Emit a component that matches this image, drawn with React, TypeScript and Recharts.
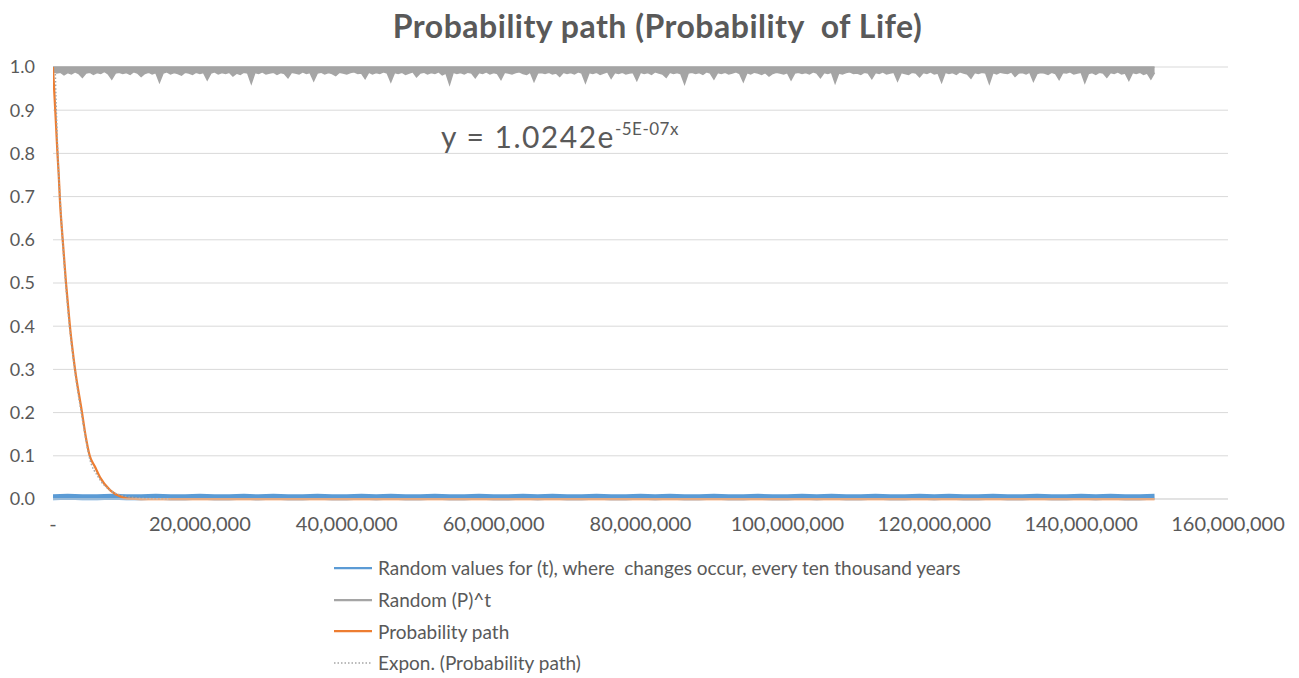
import React from "react";
import {
  ComposedChart,
  Area,
  Line,
  XAxis,
  YAxis,
  CartesianGrid,
} from "recharts";

// step of the random series (years)
const STEP_GRAY = 500000;
const STEP_BLUE = 2000000;

// lower edge of the noisy "Random (P)^t" band, one value per 0.5M years, 0 .. 150M
const randomPLow = [
  0.990, 0.986, 0.988, 0.982, 0.987, 0.984, 0.989, 0.985, 0.976, 0.986, 0.988, 0.983, 0.987, 0.985, 0.990, 0.984, 0.972, 0.986, 0.988, 0.985,
  0.987, 0.983, 0.989, 0.986, 0.978, 0.985, 0.988, 0.984, 0.987, 0.965, 0.986, 0.989, 0.984, 0.987, 0.985, 0.981, 0.988, 0.986, 0.983, 0.988,
  0.985, 0.987, 0.970, 0.986, 0.989, 0.984, 0.987, 0.985, 0.988, 0.979, 0.986, 0.983, 0.988, 0.986, 0.962, 0.987, 0.985, 0.989, 0.984, 0.986,
  0.988, 0.983, 0.987, 0.985, 0.975, 0.988, 0.986, 0.984, 0.989, 0.985, 0.987, 0.968, 0.986, 0.988, 0.984, 0.987, 0.985, 0.980, 0.988, 0.986,
  0.984, 0.987, 0.989, 0.985, 0.986, 0.973, 0.988, 0.984, 0.987, 0.985, 0.989, 0.986, 0.966, 0.987, 0.985, 0.988, 0.983, 0.986, 0.989, 0.977,
  0.986, 0.988, 0.984, 0.987, 0.985, 0.989, 0.982, 0.986, 0.960, 0.988, 0.985, 0.987, 0.984, 0.988, 0.986, 0.975, 0.987, 0.985, 0.989, 0.984,
  0.987, 0.985, 0.971, 0.988, 0.986, 0.984, 0.987, 0.989, 0.985, 0.983, 0.988, 0.967, 0.986, 0.987, 0.985, 0.988, 0.984, 0.986, 0.978, 0.988,
  0.985, 0.987, 0.984, 0.989, 0.986, 0.964, 0.987, 0.985, 0.988, 0.983, 0.986, 0.989, 0.974, 0.987, 0.985, 0.988, 0.984, 0.986, 0.987, 0.969,
  0.988, 0.985, 0.987, 0.983, 0.989, 0.986, 0.984, 0.976, 0.988, 0.985, 0.987, 0.984, 0.961, 0.986, 0.988, 0.985, 0.987, 0.983, 0.989, 0.986,
  0.972, 0.987, 0.985, 0.988, 0.984, 0.986, 0.989, 0.985, 0.966, 0.987, 0.984, 0.988, 0.986, 0.983, 0.987, 0.979, 0.985, 0.988, 0.986, 0.984,
  0.987, 0.970, 0.986, 0.988, 0.985, 0.987, 0.984, 0.989, 0.986, 0.975, 0.987, 0.985, 0.988, 0.963, 0.986, 0.984, 0.987, 0.989, 0.985, 0.986,
  0.983, 0.988, 0.986, 0.973, 0.987, 0.985, 0.989, 0.984, 0.986, 0.988, 0.968, 0.987, 0.985, 0.983, 0.988, 0.986, 0.977, 0.987, 0.985, 0.989,
  0.984, 0.986, 0.965, 0.988, 0.985, 0.987, 0.983, 0.989, 0.986, 0.984, 0.974, 0.987, 0.985, 0.988, 0.986, 0.962, 0.987, 0.984, 0.988, 0.986,
  0.985, 0.989, 0.978, 0.986, 0.987, 0.984, 0.988, 0.967, 0.985, 0.987, 0.986, 0.983, 0.988, 0.985, 0.971, 0.987, 0.986, 0.989, 0.984, 0.986,
  0.988, 0.964, 0.985, 0.987, 0.983, 0.988, 0.986, 0.976, 0.987, 0.985, 0.989, 0.984, 0.986, 0.969, 0.987, 0.985, 0.988, 0.983, 0.986, 0.972,
  0.987,
];

// random values for t, one per 2M years
const randomT = [
  0.004, 0.005, 0.004, 0.004, 0.005, 0.004, 0.004, 0.005, 0.004, 0.004, 0.005, 0.004, 0.004, 0.005, 0.004, 0.005, 0.004, 0.004, 0.005, 0.004,
  0.004, 0.005, 0.004, 0.005, 0.004, 0.004, 0.005, 0.004, 0.004, 0.005, 0.004, 0.004, 0.005, 0.004, 0.005, 0.004, 0.004, 0.005, 0.004, 0.004,
  0.005, 0.004, 0.005, 0.004, 0.004, 0.005, 0.004, 0.004, 0.005, 0.004, 0.004, 0.005, 0.004, 0.005, 0.004, 0.004, 0.005, 0.004, 0.004, 0.005,
  0.004, 0.005, 0.004, 0.004, 0.005, 0.004, 0.004, 0.005, 0.004, 0.004, 0.005, 0.004, 0.005, 0.004, 0.004, 0.005,
];

// probability path (x in millions of years)
const pathX = [0, 0.15, 0.31, 0.46, 0.61, 0.78, 0.95, 1.32, 1.77, 2.3, 3.0, 3.95, 4.4, 5.0, 5.7, 6.4, 7.8, 9.3, 10.2, 12, 150];
const pathY = [1.0, 0.95, 0.9, 0.85, 0.8, 0.75, 0.69, 0.6, 0.5, 0.4, 0.3, 0.2, 0.15, 0.1, 0.075, 0.05, 0.02, 0.005, 0.001, 0.0, 0.0];

// exponential trendline (x in millions of years)
const trendX = [0.3, 0.4, 0.55, 0.7, 0.95, 1.3, 1.72, 2.25, 2.95, 3.85, 4.35, 4.9, 6.2, 7.8, 9.5, 12, 16];
const trendY = [1.0, 0.93, 0.85, 0.78, 0.7, 0.6, 0.5, 0.4, 0.3, 0.2, 0.15, 0.1, 0.05, 0.02, 0.008, 0.002, 0.0];

const xTicks = [0, 20000000, 40000000, 60000000, 80000000, 100000000, 120000000, 140000000, 160000000];
const yTicks = [0, 0.1, 0.2, 0.3, 0.4, 0.5, 0.6, 0.7, 0.8, 0.9, 1.0];

const legendItems = [
  { name: "Random values for (t), where  changes occur, every ten thousand years", color: "#5b9bd5", dotted: false },
  { name: "Random (P)^t", color: "#a5a5a5", dotted: false },
  { name: "Probability path", color: "#ed7d31", dotted: false },
  { name: "Expon. (Probability path)", color: "#a5a5a5", dotted: true },
];

const grayData = randomPLow.map((v, i) => ({ x: i * STEP_GRAY, band: [v, 1.0] }));
const blueData = randomT.map((v, i) => ({ x: i * STEP_BLUE, t: v }));
const pathData = pathX.map((x, i) => ({ x: x * 1000000, p: pathY[i] }));
const trendData = trendX.map((x, i) => ({ x: x * 1000000, e: trendY[i] }));

const FONT = "Lato, 'Open Sans', sans-serif";
const TEXT = "#595959";

export default function App() {
  return (
    <div style={{ position: "absolute", left: 0, top: 0, width: 1299, height: 678, background: "#fff", fontFamily: FONT }}>
      <div
        style={{
          position: "absolute",
          left: 0,
          width: 1299,
          top: 6,
          textAlign: "center",
          fontSize: 32,
          fontWeight: 700,
          letterSpacing: 0.5,
          color: TEXT,
          paddingLeft: 8,
          whiteSpace: "pre",
        }}
      >
        {"Probability path (Probability  of Life)"}
      </div>

      <ComposedChart
        width={1299}
        height={678}
        data={grayData}
        margin={{ top: 67, right: 71, left: 0, bottom: 139 }}
      >
        <CartesianGrid vertical={false} stroke="#d9d9d9" />
        <XAxis
          dataKey="x"
          type="number"
          domain={[0, 160000000]}
          ticks={xTicks}
          tickFormatter={(v: number) => (v === 0 ? "-" : v.toLocaleString("en-US"))}
          axisLine={{ stroke: "#d9d9d9" }}
          tickLine={false}
          tickMargin={12}
          height={40}
          tick={{ fill: TEXT, fontSize: 20, fontFamily: FONT }}
          allowDataOverflow
        />
        <YAxis
          type="number"
          domain={[0, 1]}
          ticks={yTicks}
          tickFormatter={(v: number) => v.toFixed(1)}
          axisLine={false}
          tickLine={false}
          tickMargin={12}
          width={53}
          tick={{ fill: TEXT, fontSize: 18, fontFamily: FONT }}
        />
        <Area
          dataKey="band"
          type="linear"
          stroke="#a5a5a5"
          strokeWidth={1.5}
          fill="#a5a5a5"
          fillOpacity={1}
          isAnimationActive={false}
          dot={false}
          activeDot={false}
        />
        <Line
          data={blueData}
          dataKey="t"
          type="linear"
          stroke="#5b9bd5"
          strokeWidth={6}
          dot={false}
          activeDot={false}
          isAnimationActive={false}
        />
        <Line
          data={pathData}
          dataKey="p"
          type="monotone"
          stroke="#ed7d31"
          strokeWidth={2.25}
          dot={false}
          activeDot={false}
          isAnimationActive={false}
        />
        <Line
          data={trendData}
          dataKey="e"
          type="monotone"
          stroke="#a5a5a5"
          strokeWidth={1.5}
          strokeDasharray="1.5 2"
          dot={false}
          activeDot={false}
          isAnimationActive={false}
        />
      </ComposedChart>

      <div style={{ position: "absolute", left: 441, top: 118, color: TEXT, fontSize: 30, letterSpacing: 1.5, whiteSpace: "nowrap" }}>
        y = 1.0242e
        <span style={{ fontSize: 17, position: "relative", top: -13, letterSpacing: 0.5 }}>-5E-07x</span>
      </div>

      <div style={{ position: "absolute", left: 334, top: 552 }}>
        {legendItems.map((item) => (
          <div key={item.name} style={{ display: "flex", alignItems: "center", height: 31.7 }}>
            <svg width={40} height={4} style={{ marginRight: 4 }}>
              <line
                x1={0}
                y1={2}
                x2={38}
                y2={2}
                stroke={item.color}
                strokeWidth={item.dotted ? 1.5 : 2.25}
                strokeDasharray={item.dotted ? "1.5 2" : undefined}
              />
            </svg>
            <span style={{ fontSize: 19, color: TEXT, whiteSpace: "pre" }}>{item.name}</span>
          </div>
        ))}
      </div>
    </div>
  );
}
